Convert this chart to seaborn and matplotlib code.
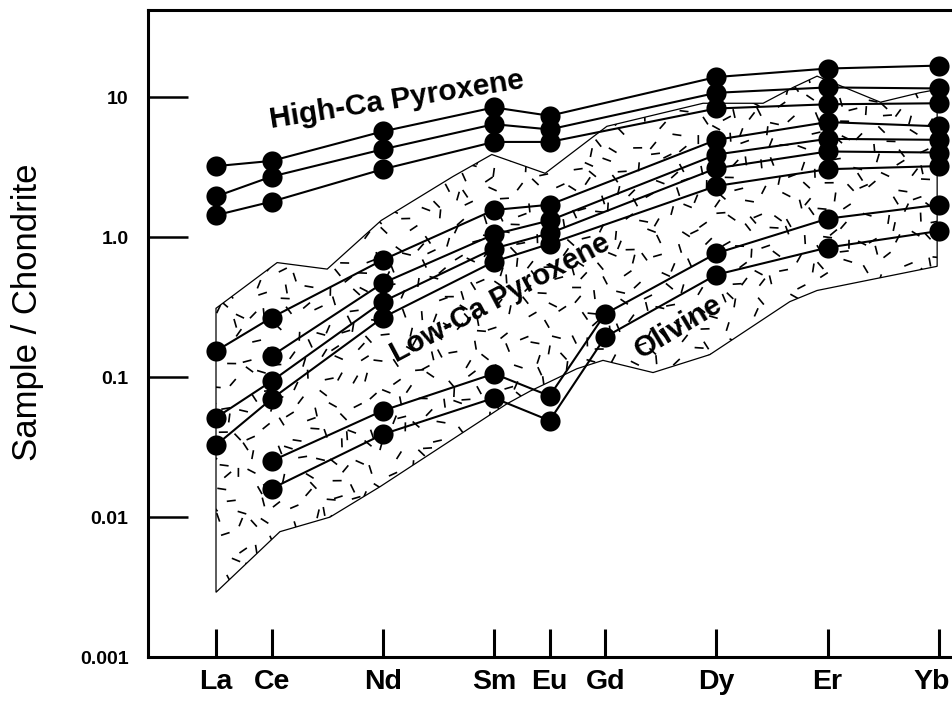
import numpy as np
import pandas as pd
import matplotlib
matplotlib.use("Agg")
import matplotlib.pyplot as plt
import matplotlib.transforms as mtransforms
import seaborn as sns
from matplotlib.collections import LineCollection
from matplotlib.patches import Polygon
from matplotlib.ticker import NullLocator, FixedLocator, FixedFormatter

# ---------------- data ----------------
elements = ["La", "Ce", "Nd", "Sm", "Eu", "Gd", "Dy", "Er", "Yb"]
atomic_number = [57, 58, 60, 62, 63, 64, 66, 68, 70]
nan = np.nan

# High-Ca pyroxene
high_ca_1 = [3.23, 3.52, 5.72, 8.49, 7.40, nan, 14.0, 16.1, 16.9]
high_ca_2 = [1.96, 2.72, 4.26, 6.44, 5.91, nan, 10.8, 11.8, 11.6]
high_ca_3 = [1.44, 1.80, 3.07, 4.81, 4.81, nan, 8.34, 8.94, 9.09]
# Low-Ca pyroxene
low_ca_1 = [0.154, 0.267, 0.69, 1.57, 1.71, nan, 4.98, 6.67, 6.22]
low_ca_2 = [nan, 0.142, 0.471, 1.05, 1.32, nan, 3.91, 5.06, 4.98]
low_ca_3 = [0.0514, 0.0937, 0.347, 0.832, 1.07, nan, 3.12, 4.11, 4.04]
low_ca_4 = [0.0327, 0.070, 0.267, 0.671, 0.898, nan, 2.33, 3.07, 3.23]
# Olivine
olivine_1 = [nan, 0.0252, 0.0577, 0.106, 0.0735, 0.284, 0.77, 1.36, 1.71]
olivine_2 = [nan, 0.016, 0.0391, 0.0711, 0.049, 0.194, 0.541, 0.845, 1.11]

# envelope of the stippled field (atomic-number position, sample/chondrite)
env_upper_x = [57.0, 58.10, 59.0, 59.97, 61.26, 61.96, 62.92, 64.03, 65.76,
               66.84, 67.38, 67.81, 68.95, 69.65, 69.97]
env_upper_y = [0.311, 0.66, 0.593, 1.32, 2.72, 3.91, 2.87, 6.22, 9.09,
               9.09, 11.8, 14.2, 9.25, 10.8, 11.4]
env_lower_x = [57.0, 58.15, 59.05, 59.95, 62.23, 62.65, 63.49, 63.96, 64.86,
               65.88, 67.32, 67.81, 69.97]
env_lower_y = [0.0029, 0.00787, 0.01, 0.0165, 0.0645, 0.0796, 0.115, 0.132,
               0.108, 0.145, 0.347, 0.417, 0.621]

y_ticks = [0.001, 0.01, 0.1, 1.0, 10]
y_tick_labels = ["0.001", "0.01", "0.1", "1.0", "10"]

series = {
    "high_ca_1": high_ca_1, "high_ca_2": high_ca_2, "high_ca_3": high_ca_3,
    "low_ca_1": low_ca_1, "low_ca_2": low_ca_2, "low_ca_3": low_ca_3,
    "low_ca_4": low_ca_4, "olivine_1": olivine_1, "olivine_2": olivine_2,
}
rows = []
for name, vals in series.items():
    for z, v in zip(atomic_number, vals):
        if not np.isnan(v):
            rows.append({"series": name, "Z": z, "value": v})
df = pd.DataFrame(rows)

# ---------------- style ----------------
sns.set_style("white")
plt.rcParams["font.family"] = ["Liberation Sans", "DejaVu Sans"]
plt.rcParams["text.color"] = "black"
plt.rcParams["axes.labelcolor"] = "black"
plt.rcParams["xtick.color"] = "black"
plt.rcParams["ytick.color"] = "black"

W, H = 952, 702
fig = plt.figure(figsize=(W / 100, H / 100), dpi=100)
ax = fig.add_axes([148 / W, 45 / H, 812 / W, 647 / H])

ax.set_yscale("log")
ax.set_xlim(55.777, 70.381)
ax.set_ylim(0.001, 42.2)

# stippled field
env_x = env_upper_x + env_lower_x[::-1]
env_y = env_upper_y + env_lower_y[::-1]
field = Polygon(np.column_stack([env_x, env_y]), closed=True,
                facecolor="none", edgecolor="black", linewidth=0.9, zorder=2)
ax.add_patch(field)


def halton(i, b):
    f, r = 1.0, 0.0
    while i > 0:
        f /= b
        r += f * (i % b)
        i //= b
    return r


n_dash = 1700
seg = []
L = 9.0  # px
for i in range(1, n_dash + 1):
    cx, cy = halton(i, 2), halton(i, 3)
    ang = np.pi * halton(i, 5)
    dx = 0.5 * L * np.cos(ang) / 812
    dy = 0.5 * L * np.sin(ang) / 647
    seg.append([(cx - dx, cy - dy), (cx + dx, cy + dy)])
lc = LineCollection(seg, colors="black", linewidths=1.2,
                    transform=ax.transAxes, zorder=1)
ax.add_collection(lc)
lc.set_clip_path(field)

# REE patterns
sns.lineplot(data=df, x="Z", y="value", units="series", estimator=None,
             color="black", linewidth=1.5, marker="o", markersize=14.5,
             markeredgewidth=0, sort=False, ax=ax, zorder=3, legend=False)

# axes cosmetics
for s in ["left", "bottom", "top"]:
    ax.spines[s].set_linewidth(2.2)
    ax.spines[s].set_color("black")
ax.spines["right"].set_visible(False)

ax.yaxis.set_major_locator(FixedLocator(y_ticks))
ax.yaxis.set_major_formatter(FixedFormatter(y_tick_labels))
ax.yaxis.set_minor_locator(NullLocator())
ax.xaxis.set_major_locator(FixedLocator(atomic_number))
ax.xaxis.set_major_formatter(FixedFormatter(elements))
ax.xaxis.set_minor_locator(NullLocator())

ax.tick_params(axis="y", direction="in", length=29, width=1.8, pad=14,
               labelsize=14, left=True)
ax.tick_params(axis="x", direction="in", length=20, width=2.2, pad=8.5,
               labelsize=20.5, bottom=True)
for lab in ax.get_xticklabels() + ax.get_yticklabels():
    lab.set_fontweight("bold")

# keep the last (Yb) label inside the canvas, as in the reference
last_tick = ax.xaxis.get_major_ticks()[-1]
last_tick.label1.set_horizontalalignment("right")
last_tick.label1.set_transform(
    last_tick.label1.get_transform()
    + mtransforms.ScaledTranslation(11 / 100, 0, fig.dpi_scale_trans))

ax.set_xlabel("")
ax.set_ylabel("Sample / Chondrite", fontsize=25)
ax.yaxis.set_label_coords(-0.128, 0.533)

# annotations
ax.text(0.3067, 0.861, "High-Ca Pyroxene", transform=ax.transAxes,
        rotation=9, ha="center", va="center", fontsize=21.5, fontweight="bold",
        zorder=4)
ax.text(0.4335, 0.555, "Low-Ca Pyroxene", transform=ax.transAxes,
        rotation=28, ha="center", va="center", fontsize=21, fontweight="bold",
        zorder=4)
ax.text(0.6527, 0.510, "Olivine", transform=ax.transAxes,
        rotation=31, ha="center", va="center", fontsize=21, fontweight="bold",
        zorder=4)

fig.savefig("out.png", dpi=100)
